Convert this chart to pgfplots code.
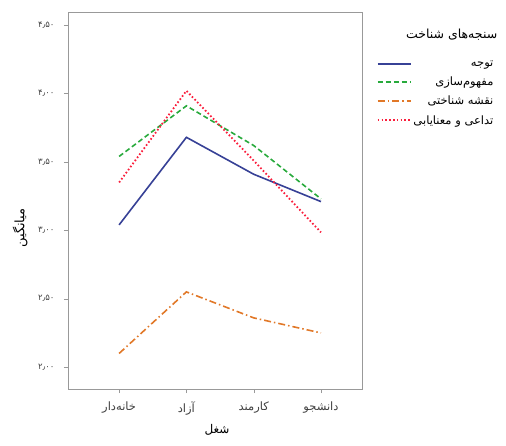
\documentclass[border=0pt]{standalone}
\usepackage{fontspec}
\usepackage{pgfplots}
\pgfplotsset{compat=1.18}
\TeXXeTstate=1
\newfontfamily\arabicfont[Script=Arabic]{DejaVu Sans}
\definecolor{cblue}{RGB}{55,65,150}
\definecolor{cgreen}{RGB}{40,170,60}
\definecolor{corange}{RGB}{225,120,40}
\definecolor{cred}{RGB}{250,30,60}
\begin{document}
\begin{tikzpicture}
\useasboundingbox (-68pt,-56pt) rectangle (438pt,389pt);
\begin{axis}[
  at={(0,0)}, anchor=south west,
  scale only axis, width=294pt, height=377pt,
  clip mode=individual,
  xmin=-0.76, xmax=3.61, ymin=1.84, ymax=4.596,
  xtick={0,1,2,3},
  xticklabels={{\beginR خانه‌دار\endR},{\beginR آزاد\endR},{\beginR کارمند\endR},{\beginR دانشجو\endR}},
  ytick={2,2.5,3,3.5,4,4.5},
  yticklabels={۲٫۰۰,۲٫۵۰,۳٫۰۰,۳٫۵۰,۴٫۰۰,۴٫۵۰},
  yticklabel style={font=\arabicfont\fontsize{8.5}{10}\selectfont, color=black!75, xshift=-6pt},
  xticklabel style={font=\arabicfont\fontsize{11.5}{13}\selectfont, color=black!75, yshift=-5pt},
  tick align=outside, tick pos=left, major tick length=4pt,
  axis line style={black!40},
  tick style={black!40},
  xlabel={\beginR شغل\endR},
  ylabel={\beginR میانگین\endR},
  label style={font=\arabicfont\fontsize{12}{14}\selectfont},
  xlabel style={at={(axis description cs:0.507,-0.109)}, anchor=center},
  ylabel style={at={(axis description cs:-0.163,0.427)}, anchor=center, font=\arabicfont\fontsize{13}{15}\selectfont},
  legend style={at={(1.04,0.882)}, anchor=north west, draw=none, fill=none,
    font=\arabicfont\fontsize{11.5}{13}\selectfont, cells={anchor=east}, row sep=5pt},
  legend image code/.code={\draw[#1] (0cm,0cm) -- (1.05cm,0cm); \path (0cm,0cm) -- (1.15cm,0cm);},
]
\addplot[cblue, line width=1.6pt] coordinates {(0,3.04) (1,3.68) (2,3.41) (3,3.21)};
\addlegendentry{\beginR توجه\endR}
\addplot[cgreen, line width=1.6pt, dash pattern=on 5pt off 3pt] coordinates {(0,3.54) (1,3.91) (2,3.62) (3,3.23)};
\addlegendentry{\beginR مفهوم‌سازی\endR}
\addplot[corange, line width=1.6pt, dash pattern=on 7pt off 3pt on 1.5pt off 3pt] coordinates {(0,2.10) (1,2.55) (2,2.36) (3,2.25)};
\addlegendentry{\beginR نقشه شناختی\endR}
\addplot[cred, line width=1.8pt, dash pattern=on 1.6pt off 2.2pt] coordinates {(0,3.35) (1,4.02) (2,3.51) (3,2.985)};
\addlegendentry{\beginR تداعی و معنایابی\endR}
\node[anchor=east, font=\arabicfont\fontsize{12.5}{14}\selectfont] at (rel axis cs:1.472,0.939) {\beginR سنجه‌های شناخت\endR};
\end{axis}
\end{tikzpicture}
\end{document}
